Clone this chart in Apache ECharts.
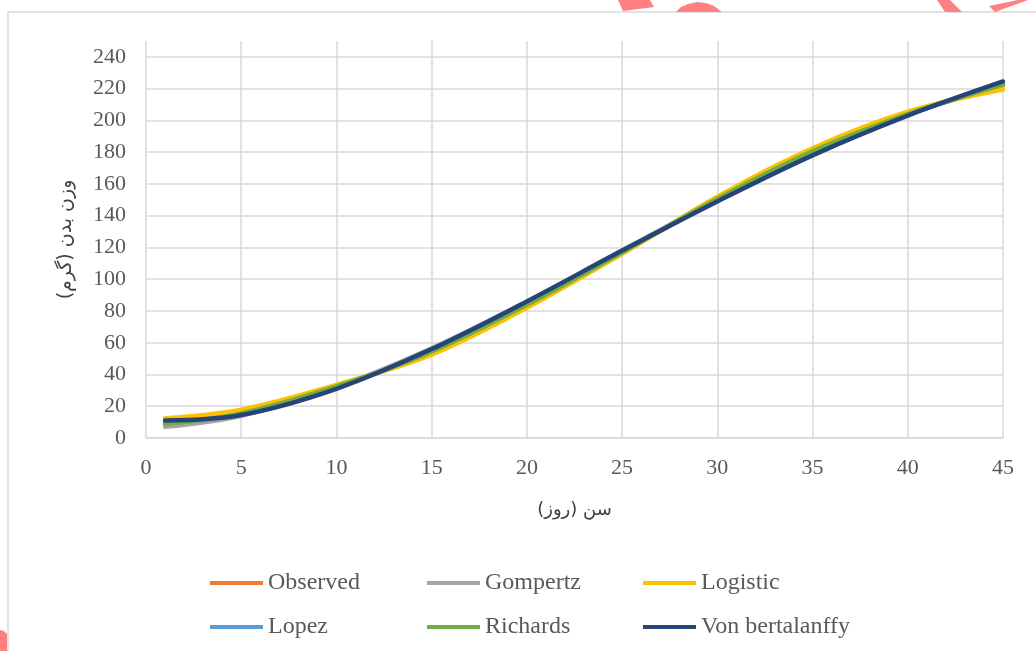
<!DOCTYPE html>
<html><head><meta charset="utf-8">
<script src="https://cdn.jsdelivr.net/npm/echarts@6/dist/echarts.min.js"></script>
<style>html,body{margin:0;padding:0;background:#fff;}#c{width:1036px;height:651px;}</style>
</head><body><div id="c"></div>
<script>
const days = [1, 5, 10, 15, 20, 25, 30, 35, 40, 45];
const observed = [10, 15, 32, 55, 85, 117, 150, 180, 204, 222];
const gompertz = [7, 14, 32, 56.5, 86, 118, 150, 179.5, 203.5, 222.5];
const logistic = [12.4, 17.8, 33.5, 52.5, 82, 116, 152, 182.5, 205.5, 219.5];
const lopez = [9.5, 15, 32, 55, 85, 117.5, 150, 179.5, 203.5, 223];
const richards = [8.8, 15.5, 32.5, 54.5, 84, 117, 150.5, 180.5, 204, 222.5];
const vonBertalanffy = [11, 14.5, 31, 56, 86, 118, 149, 178, 203, 224.5];
const seriesNames = ['Observed', 'Gompertz', 'Logistic', 'Lopez', 'Richards', 'Von bertalanffy'];
const seriesColors = ['#ED7D31', '#A5A5A5', '#FFC000', '#5B9BD5', '#70AD47', '#264478'];
const seriesData = [observed, gompertz, logistic, lopez, richards, vonBertalanffy];

const serif = '"Liberation Serif", "Times New Roman", serif';
const chart = echarts.init(document.getElementById('c'), null, {renderer: 'canvas'});

const legendPos = [[210, 571], [427, 571], [643, 571], [210, 615], [427, 615], [643, 615]];
const legends = seriesNames.map((n, i) => ({
  data: [n], left: legendPos[i][0], top: legendPos[i][1], padding: 0,
  icon: 'rect', itemWidth: 53, itemHeight: 4, itemGap: 0,
  textStyle: {fontFamily: serif, fontSize: 24, color: '#595959'},
  selectedMode: false
}));

chart.setOption({
  animation: false,
  backgroundColor: '#fff',
  grid: {left: 146, right: 33, top: 41, bottom: 213},
  xAxis: {
    type: 'value', min: 0, max: 45, interval: 5,
    name: 'سن (روز)', nameLocation: 'middle', nameGap: 63,
    nameTextStyle: {fontFamily: '"DejaVu Sans", sans-serif', fontSize: 18, color: '#404040'},
    axisLine: {show: true, lineStyle: {color: '#d9d9d9', width: 1.5}},
    axisTick: {show: false},
    axisLabel: {fontFamily: serif, fontSize: 22, color: '#595959', margin: 19},
    splitLine: {show: true, lineStyle: {color: '#d9d9d9', width: 1.5}}
  },
  yAxis: {
    type: 'value', min: 0, max: 250, interval: 20,
    name: 'وزن بدن (گرم)', nameLocation: 'middle', nameGap: 70, nameRotate: 90,
    nameTextStyle: {fontFamily: '"DejaVu Sans", sans-serif', fontSize: 19, color: '#404040'},
    axisLine: {show: false}, axisTick: {show: false},
    axisLabel: {fontFamily: serif, fontSize: 22, color: '#595959', margin: 20, showMaxLabel: false},
    splitLine: {show: true, showMaxLine: false, lineStyle: {color: '#d9d9d9', width: 1.5}}
  },
  legend: legends,
  series: seriesNames.map((n, i) => ({
    name: n, type: 'line', data: days.map((d, k) => [d, seriesData[i][k]]),
    smooth: 0.35, showSymbol: false, symbol: 'none',
    lineStyle: {color: seriesColors[i], width: 4.5, cap: 'round'},
    itemStyle: {color: seriesColors[i]},
    z: 2 + i
  })),
  graphic: [
    {type: 'rect', shape: {x: 8, y: 12, width: 1200, height: 800}, style: {fill: 'none', stroke: '#d9d9d9', lineWidth: 1.5}, z: 100, silent: true},
    {type: 'polygon', shape: {points: [[618, 0], [650, 0], [654, 7], [623, 11]]}, style: {fill: '#FF8080'}, z: 101, silent: true},
    {type: 'polygon', shape: {points: [[676, 12], [681, 7], [688, 4], [697, 2], [706, 3], [714, 6], [722, 12]]}, style: {fill: '#FF8080'}, z: 101, silent: true},
    {type: 'polygon', shape: {points: [[937, 0], [950, 0], [962, 12], [945, 12]]}, style: {fill: '#FF8080'}, z: 101, silent: true},
    {type: 'polygon', shape: {points: [[989, 6], [1018, 0], [1028, 0], [995, 12]]}, style: {fill: '#FF8080'}, z: 101, silent: true},
    {type: 'polygon', shape: {points: [[0, 630], [4, 631], [7, 634], [7, 651], [0, 651]]}, style: {fill: '#FF8080'}, z: 101, silent: true}
  ]
});
</script></body></html>
